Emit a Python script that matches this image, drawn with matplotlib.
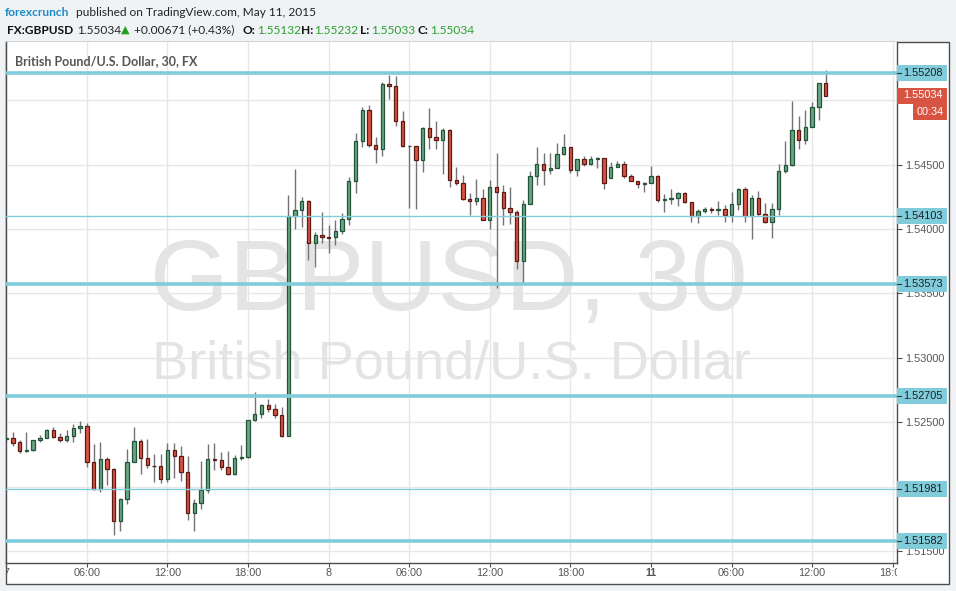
import matplotlib
matplotlib.use("Agg")
import matplotlib.pyplot as plt
import numpy as np
from matplotlib.patches import Rectangle
from matplotlib.transforms import blended_transform_factory, Bbox, TransformedBbox

# ---------------- data (GBPUSD 30-minute candles) ----------------
opens = [
    1.52372, 1.52376, 1.52345, 1.52275, 1.52283, 1.52361, 1.52376, 1.52438, 1.52384, 1.52361,
    1.52392, 1.52454, 1.52469, 1.52190, 1.51983, 1.52213, 1.52136, 1.51732, 1.51903, 1.52190,
    1.52353, 1.52221, 1.52164, 1.52159, 1.52058, 1.52283, 1.52236, 1.52112, 1.51795, 1.51872,
    1.51977, 1.52213, 1.52206, 1.52151, 1.52097, 1.52221, 1.52229, 1.52516, 1.52563, 1.52632,
    1.52601, 1.52555, 1.52392, 1.54100, 1.54147, 1.54217, 1.53889, 1.53951, 1.53936, 1.53936,
    1.53982, 1.54075, 1.54370, 1.54680, 1.54921, 1.54649, 1.54618, 1.55123, 1.55107, 1.54836,
    1.54642, 1.54642, 1.54533, 1.54781, 1.54711, 1.54688, 1.54766, 1.54378, 1.54355, 1.54231,
    1.54215, 1.54238, 1.54068, 1.54324, 1.54285, 1.54161, 1.54130, 1.53750, 1.54192, 1.54409,
    1.54502, 1.54455, 1.54471, 1.54580, 1.54634, 1.54455, 1.54541, 1.54502, 1.54541, 1.54549,
    1.54394, 1.54479, 1.54502, 1.54409, 1.54370, 1.54347, 1.54355, 1.54409, 1.54223, 1.54231,
    1.54238, 1.54277, 1.54208, 1.54099, 1.54138, 1.54153, 1.54145, 1.54153, 1.54106, 1.54192,
    1.54308, 1.54099, 1.54238, 1.54114, 1.54052, 1.54153, 1.54448, 1.54494, 1.54766, 1.54688,
    1.54789, 1.54944, 1.55132]
closes = [
    1.52376, 1.52342, 1.52275, 1.52286, 1.52361, 1.52376, 1.52438, 1.52384, 1.52361, 1.52392,
    1.52454, 1.52469, 1.52190, 1.51983, 1.52213, 1.52136, 1.51732, 1.51903, 1.52190, 1.52353,
    1.52221, 1.52167, 1.52159, 1.52058, 1.52283, 1.52236, 1.52112, 1.51795, 1.51872, 1.51977,
    1.52213, 1.52206, 1.52151, 1.52097, 1.52221, 1.52229, 1.52516, 1.52563, 1.52632, 1.52601,
    1.52555, 1.52392, 1.54100, 1.54145, 1.54217, 1.53889, 1.53951, 1.53936, 1.53933, 1.53982,
    1.54075, 1.54370, 1.54680, 1.54921, 1.54649, 1.54618, 1.55123, 1.55107, 1.54836, 1.54642,
    1.54644, 1.54533, 1.54781, 1.54711, 1.54688, 1.54766, 1.54378, 1.54355, 1.54231, 1.54215,
    1.54238, 1.54068, 1.54324, 1.54285, 1.54161, 1.54130, 1.53750, 1.54192, 1.54409, 1.54502,
    1.54455, 1.54471, 1.54580, 1.54634, 1.54455, 1.54541, 1.54502, 1.54541, 1.54549, 1.54355,
    1.54479, 1.54502, 1.54409, 1.54370, 1.54347, 1.54355, 1.54409, 1.54223, 1.54231, 1.54238,
    1.54277, 1.54208, 1.54099, 1.54138, 1.54153, 1.54145, 1.54153, 1.54106, 1.54192, 1.54308,
    1.54099, 1.54238, 1.54114, 1.54052, 1.54153, 1.54448, 1.54494, 1.54766, 1.54688, 1.54789,
    1.54944, 1.55130, 1.55034]
highs = [
    1.52390, 1.52423, 1.52363, 1.52423, 1.52363, 1.52402, 1.52446, 1.52462, 1.52415, 1.52438,
    1.52485, 1.52508, 1.52493, 1.52330, 1.52350, 1.52229, 1.52144, 1.51913, 1.52291, 1.52462,
    1.52368, 1.52368, 1.52253, 1.52255, 1.52337, 1.52337, 1.52314, 1.52236, 1.51903, 1.52200,
    1.52330, 1.52340, 1.52270, 1.52278, 1.52244, 1.52322, 1.52518, 1.52736, 1.52640, 1.52679,
    1.52640, 1.52617, 1.54266, 1.54466, 1.54248, 1.54225, 1.53975, 1.54132, 1.54031, 1.54070,
    1.54124, 1.54401, 1.54745, 1.54947, 1.54960, 1.54711, 1.55138, 1.55195, 1.55187, 1.54913,
    1.54649, 1.54642, 1.54789, 1.54937, 1.54836, 1.54784, 1.54774, 1.54479, 1.54417, 1.54277,
    1.54386, 1.54308, 1.54378, 1.54587, 1.54339, 1.54324, 1.54145, 1.54223, 1.54448, 1.54634,
    1.54587, 1.54587, 1.54665, 1.54735, 1.54634, 1.54541, 1.54564, 1.54564, 1.54556, 1.54549,
    1.54518, 1.54525, 1.54525, 1.54424, 1.54370, 1.54362, 1.54487, 1.54417, 1.54269, 1.54308,
    1.54285, 1.54285, 1.54208, 1.54153, 1.54169, 1.54169, 1.54215, 1.54184, 1.54285, 1.54316,
    1.54324, 1.54262, 1.54292, 1.54202, 1.54202, 1.54502, 1.54685, 1.54991, 1.54874, 1.54921,
    1.54983, 1.55130, 1.55232]
lows = [
    1.52360, 1.52319, 1.52265, 1.52271, 1.52280, 1.52350, 1.52375, 1.52376, 1.52350, 1.52350,
    1.52350, 1.52415, 1.52156, 1.51979, 1.51960, 1.52016, 1.51624, 1.51660, 1.51864, 1.52189,
    1.52096, 1.52144, 1.52039, 1.52031, 1.52036, 1.52066, 1.52044, 1.51745, 1.51660, 1.51826,
    1.51950, 1.52130, 1.52128, 1.52095, 1.52089, 1.52206, 1.52221, 1.52514, 1.52532, 1.52578,
    1.52532, 1.52384, 1.52391, 1.54000, 1.54018, 1.53760, 1.53708, 1.53889, 1.53812, 1.53874,
    1.53959, 1.54031, 1.54282, 1.54639, 1.54639, 1.54514, 1.54569, 1.55011, 1.54797, 1.54634,
    1.54165, 1.54158, 1.54440, 1.54618, 1.54618, 1.54424, 1.54324, 1.54339, 1.54223, 1.54111,
    1.54184, 1.54068, 1.53998, 1.53540, 1.54029, 1.54036, 1.53687, 1.53579, 1.54192, 1.54339,
    1.54339, 1.54424, 1.54471, 1.54572, 1.54432, 1.54409, 1.54487, 1.54494, 1.54471, 1.54308,
    1.54394, 1.54479, 1.54394, 1.54370, 1.54316, 1.54285, 1.54355, 1.54208, 1.54130, 1.54192,
    1.54176, 1.54200, 1.54052, 1.54044, 1.54122, 1.54122, 1.54106, 1.54052, 1.54052, 1.54145,
    1.54052, 1.53920, 1.54109, 1.54050, 1.53928, 1.54106, 1.54432, 1.54487, 1.54618, 1.54657,
    1.54789, 1.54844, 1.55033]

time_tick_pos = [0, 12, 24, 36, 48, 60, 72, 84, 96, 108, 120, 132]
time_tick_labels = ['7', '06:00', '12:00', '18:00', '8', '06:00', '12:00', '18:00',
                    '11', '06:00', '12:00', '18:00']

price_ticks = [1.515, 1.520, 1.525, 1.530, 1.535, 1.540, 1.545, 1.550]
price_tick_labels = ['1.51500', '1.52000', '1.52500', '1.53000', '1.53500', '1.54000',
                     '1.54500', '']  # 1.55000 sits under the last-price tag
levels = [1.55208, 1.54103, 1.53573, 1.52705, 1.51981, 1.51582]
level_thick = [True, False, True, True, False, True]
last_price = 1.55034
countdown = '00:34'

# ---------------- styling ----------------
W, H = 956, 591
BG = '#f0f3f5'
FRAME = '#4d4d4d'
UP_FILL, UP_EDGE = '#6ba583', '#225437'
DN_FILL, DN_EDGE = '#d75442', '#5b1a13'
WICK = '#737375'
LEVEL = '#80ccdb'
GRID = '#e6e6e6'
AXTXT = '#555555'

plt.rcParams['font.family'] = ['Liberation Sans', 'DejaVu Sans']

fig = plt.figure(figsize=(W / 100, H / 100), dpi=100, facecolor=BG)

def fx(x):
    return x / W

def fy(y):
    return 1 - y / H

L, T, R, B = 6.3, 42.3, 949.3, 584.3
PR, PB = 897.3, 563.0
frame = Rectangle((fx(L), fy(B)), fx(R) - fx(L), fy(T) - fy(B), transform=fig.transFigure,
                  facecolor='white', edgecolor=FRAME, linewidth=1.0, zorder=0)
fig.add_artist(frame)

ax = fig.add_axes([fx(L), fy(PB), fx(PR) - fx(L), fy(T) - fy(PB)])
ax.set_facecolor('white')

n = len(opens)
k = np.arange(n)
o = np.array(opens); c = np.array(closes); hi = np.array(highs); lo = np.array(lows)
up = c >= o

YLO, YHI = 1.514089, 1.554485
ax.set_xlim(0.095, 132.68)
ax.set_ylim(YLO, YHI)

for p in price_ticks:
    ax.axhline(p, color=GRID, lw=1.0, zorder=0)
for t in time_tick_pos:
    ax.axvline(t, color=GRID, lw=1.0, zorder=0)

# watermark
ax.text(0.497, 0.486, 'GBPUSD, 30', transform=ax.transAxes, ha='center', va='baseline',
        fontsize=73, color='#e4e4e4', zorder=0.5)
ax.text(0.50, 0.355, 'British Pound/U.S. Dollar', transform=ax.transAxes, ha='center',
        va='baseline', fontsize=39, color='#e4e4e4', zorder=0.5)

# candles
ax.vlines(k, lo, hi, color=WICK, lw=1.0, zorder=2)
heights = np.maximum(np.abs(c - o), 0.00002)
bottoms = np.minimum(o, c)
ax.bar(k, heights, bottom=bottoms, width=0.5,
       color=np.where(up, UP_FILL, DN_FILL), edgecolor=np.where(up, UP_EDGE, DN_EDGE),
       linewidth=0.9, zorder=3)

for lv, thick in zip(levels, level_thick):
    ax.axhline(lv, color=LEVEL, lw=2.6 if thick else 1.0, zorder=4)

for s in ['left', 'right', 'bottom']:
    ax.spines[s].set_color(FRAME)
    ax.spines[s].set_linewidth(1.0)
ax.spines['top'].set_visible(False)

ax.yaxis.tick_right()
ax.set_yticks(price_ticks)
ax.set_yticklabels(price_tick_labels)
ax.tick_params(axis='y', which='both', length=3.5, width=0.8, color=FRAME, pad=2,
               labelsize=7.8, labelcolor=AXTXT)
ax.set_xticks(time_tick_pos)
ax.tick_params(axis='x', length=3, width=0.8, color=FRAME, labelbottom=False)

# time labels, clipped to the time-axis strip
clip = TransformedBbox(Bbox.from_extents(fx(L), fy(B), fx(PR), fy(PB)), fig.transFigure)
tt = blended_transform_factory(ax.transData, fig.transFigure)
for pos, lab in zip(time_tick_pos, time_tick_labels):
    t = ax.text(pos, fy(573.5), lab, transform=tt, ha='center', va='center', fontsize=7.8,
                color=AXTXT, fontweight='bold' if lab == '11' else 'normal', clip_on=True)
    t.set_clip_box(clip)

# price tags on the right axis
bt = blended_transform_factory(ax.transAxes, ax.transData)
bw = 50 / (PR - L)
bh = 16 / (PB - T) * (YHI - YLO)
xt = 1 + 6 / (PR - L)
for lv in levels:
    ax.add_patch(Rectangle((1.0, lv - bh / 2), bw, bh, transform=bt, facecolor=LEVEL,
                           edgecolor='none', clip_on=False, zorder=10))
    ax.plot([1.0, 1 + 3.5 / (PR - L)], [lv, lv], transform=bt, color='#333333', lw=0.8,
            clip_on=False, zorder=11)
    ax.text(xt, lv, '%.5f' % lv, transform=bt, ha='left', va='center', fontsize=7.8,
            color='#1e1e1e', zorder=12, clip_on=False)

ax.add_patch(Rectangle((1.0, last_price - bh / 2), bw, bh, transform=bt, facecolor=DN_FILL,
                       edgecolor='none', clip_on=False, zorder=10))
ax.text(xt, last_price + 0.00004, '%.5f' % last_price, transform=bt, ha='left', va='center',
        fontsize=7.8, color='white', zorder=12, clip_on=False)
cx0 = 16 / (PR - L)
ax.add_patch(Rectangle((1.0 + cx0, last_price - 1.5 * bh), bw - cx0, bh, transform=bt,
                       facecolor=DN_FILL, edgecolor='none', clip_on=False, zorder=10))
ax.text(1.0 + cx0 + (bw - cx0) / 2, last_price - bh - 0.00004, countdown, transform=bt,
        ha='center', va='center', fontsize=7.8, color='white', zorder=12, clip_on=False)

HF = ['Lato', 'DejaVu Sans']
HS = 8.6

# chart title inside the plot
fig.text(fx(15), fy(60.7), 'British Pound/U.S. Dollar, 30, FX', ha='left', va='center',
         fontsize=9.0, fontweight='bold', color='#555555', family=HF)

# ---------------- header ----------------
fig.text(fx(5), fy(12.5), 'forexcrunch', ha='left', va='center', fontsize=HS,
         fontweight='bold', color='#1a8bc8', family=HF)
fig.text(fx(76), fy(12.5), 'published on TradingView.com, May 11, 2015', ha='left',
         va='center', fontsize=HS, color='#222222', family=HF)

GREEN = '#2ca02c'
row = fy(30)
fig.text(fx(7), row, 'FX:GBPUSD', ha='left', va='center', fontsize=HS, fontweight='bold',
         color='#111111', family=HF)
fig.text(fx(77), row, '1.55034', ha='left', va='center', fontsize=HS, color='#222222', family=HF)
fig.text(fx(121), row, '\u25B2', ha='left', va='center', fontsize=8.0, color='#1fa01f',
         family=['DejaVu Sans'])
fig.text(fx(133.5), row, '+0.00671 (+0.43%)', ha='left', va='center', fontsize=HS,
         color='#222222', family=HF)
ohlc_lab = ['O:', 'H:', 'L:', 'C:']
ohlc_val = ['1.55132', '1.55232', '1.55033', '1.55034']
lab_x = [242, 301, 360, 417]
val_x = [257, 314, 371, 430]
for lb, vl, lx, vx in zip(ohlc_lab, ohlc_val, lab_x, val_x):
    fig.text(fx(lx), row, lb, ha='left', va='center', fontsize=HS, fontweight='bold',
             color='#111111', family=HF)
    fig.text(fx(vx), row, vl, ha='left', va='center', fontsize=HS, color=GREEN, family=HF)

fig.savefig('out.png', dpi=100, facecolor=BG)
